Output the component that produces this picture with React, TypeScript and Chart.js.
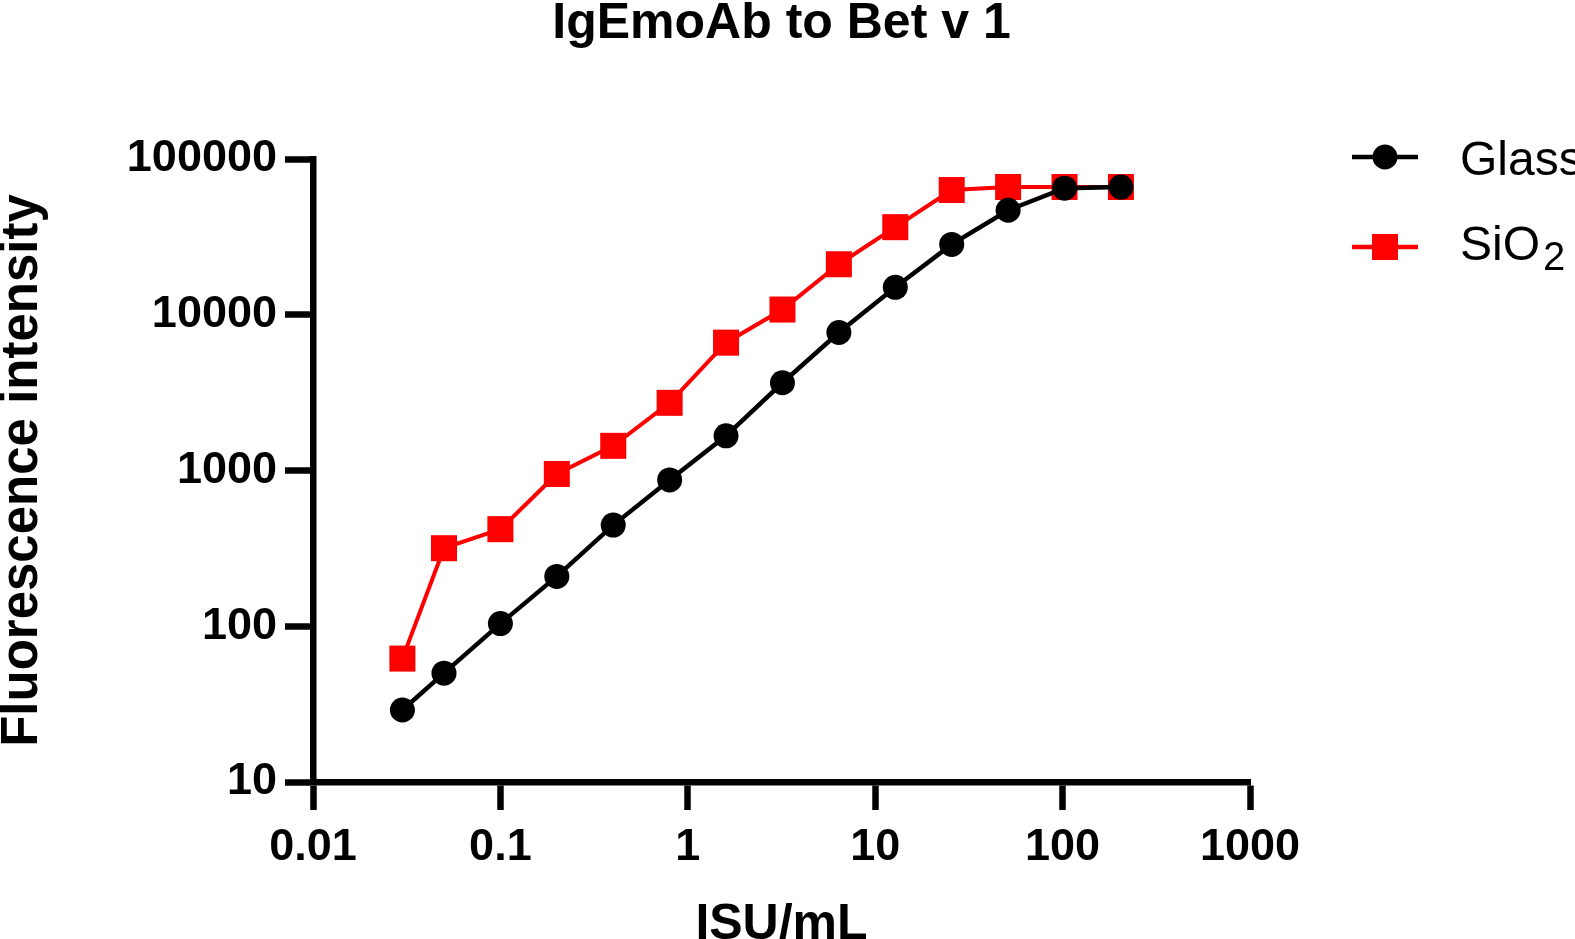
import { useEffect, useRef } from 'react'
import { Chart, registerables } from 'chart.js'

Chart.register(...registerables)

// ISU/mL dilution series
const concentrations = [0.03, 0.05, 0.1, 0.2, 0.4, 0.8, 1.6, 3.2, 6.4, 12.8, 25.6, 51.2, 102.4, 204.8]
const glassValues = [29, 50, 104, 209, 446, 870, 1670, 3660, 7690, 15000, 28300, 46900, 65000, 66000]
const sio2Values = [62, 317, 420, 950, 1440, 2720, 6620, 10800, 21100, 36500, 63200, 66100, 66100, 66100]
const xTicks = [0.01, 0.1, 1, 10, 100, 1000]
const yTicks = [10, 100, 1000, 10000, 100000]

const FONT = '"Liberation Sans", Arial, sans-serif'

const toPoints = (ys: number[]) => concentrations.map((x, i) => ({ x, y: ys[i] }))

// legend drawn by hand: line + marker, and a subscript in SiO2
const sideLegend = {
  id: 'sideLegend',
  afterDraw(chart: any) {
    const { ctx, chartArea } = chart
    const x0 = chartArea.right + 102
    const textX = x0 + 108
    const rows = [
      { y: chartArea.top - 2, color: '#000000', shape: 'circle', label: 'Glass', sub: '', base: 18 },
      { y: chartArea.top + 88, color: '#ff0000', shape: 'rect', label: 'SiO', sub: '2', base: 13 },
    ]
    ctx.save()
    rows.forEach((r) => {
      ctx.strokeStyle = r.color
      ctx.fillStyle = r.color
      ctx.lineWidth = 4.5
      ctx.beginPath()
      ctx.moveTo(x0, r.y)
      ctx.lineTo(x0 + 66, r.y)
      ctx.stroke()
      if (r.shape === 'circle') {
        ctx.beginPath()
        ctx.arc(x0 + 33, r.y, 12.5, 0, Math.PI * 2)
        ctx.fill()
      } else {
        ctx.fillRect(x0 + 20, r.y - 13, 26, 26)
      }
      ctx.fillStyle = '#000000'
      ctx.textBaseline = 'alphabetic'
      ctx.textAlign = 'left'
      ctx.font = `48px ${FONT}`
      ctx.fillText(r.label, textX, r.y + r.base)
      if (r.sub) {
        const w = ctx.measureText(r.label).width
        ctx.font = `40px ${FONT}`
        ctx.fillText(r.sub, textX + w + 3, r.y + r.base + 10)
      }
    })
    ctx.restore()
  },
}

const App = () => {
  const canvasRef = useRef<HTMLCanvasElement>(null)

  useEffect(() => {
    document.body.style.margin = '0'

    const tickGrid = {
      display: true,
      drawOnChartArea: false,
      drawTicks: true,
      tickLength: 28,
      tickWidth: 6.5,
      tickColor: '#000000',
    }
    const border = { display: true, width: 6.5, color: '#000000' }

    const chart = new Chart(canvasRef.current!, {
      type: 'scatter',
      data: {
        datasets: [
          {
            label: 'Glass',
            data: toPoints(glassValues),
            showLine: true,
            borderColor: '#000000',
            backgroundColor: '#000000',
            borderWidth: 4.5,
            pointStyle: 'circle',
            pointRadius: 12.5,
            pointBorderWidth: 0,
          },
          {
            label: 'SiO2',
            data: toPoints(sio2Values),
            showLine: true,
            borderColor: '#ff0000',
            backgroundColor: '#ff0000',
            borderWidth: 4,
            pointStyle: 'rect',
            pointRadius: 18.4,
            pointBorderWidth: 0,
          },
        ],
      },
      options: {
        animation: false,
        responsive: true,
        maintainAspectRatio: false,
        layout: { padding: { left: 0, right: 325, top: 0, bottom: 0 } },
        plugins: {
          legend: { display: false },
          tooltip: { enabled: false },
          title: {
            display: true,
            text: 'IgEmoAb to Bet v 1',
            fullSize: false,
            color: '#000000',
            font: { family: FONT, size: 50, weight: 'bold', lineHeight: 1 },
            padding: { top: -1, bottom: 110 },
          },
        },
        scales: {
          x: {
            type: 'logarithmic',
            min: 0.01,
            max: 1000,
            afterFit: (scale: any) => {
              scale.height = 157
            },
            afterBuildTicks: (scale: any) => {
              scale.ticks = xTicks.map((value) => ({ value }))
            },
            grid: tickGrid,
            border,
            ticks: {
              color: '#000000',
              padding: 11,
              autoSkip: false,
              maxRotation: 0,
              font: { family: FONT, size: 45, weight: 'bold' },
              callback: (v: any) => String(v),
            },
            title: {
              display: true,
              text: 'ISU/mL',
              color: '#000000',
              font: { family: FONT, size: 50, weight: 'bold', lineHeight: 1 },
              padding: { top: 0, bottom: -11 },
            },
          },
          y: {
            type: 'logarithmic',
            min: 10,
            max: 100000,
            afterFit: (scale: any) => {
              scale.width = 313
            },
            afterBuildTicks: (scale: any) => {
              scale.ticks = yTicks.map((value) => ({ value }))
            },
            grid: tickGrid,
            border,
            ticks: {
              color: '#000000',
              padding: 8,
              autoSkip: false,
              font: { family: FONT, size: 45, weight: 'bold' },
              callback: (v: any) => String(v),
            },
            title: {
              display: true,
              text: 'Fluorescence intensity',
              color: '#000000',
              font: { family: FONT, size: 51, weight: 'bold', lineHeight: 1 },
              padding: { top: -3, bottom: 0 },
            },
          },
        },
      },
      plugins: [sideLegend],
    })

    return () => chart.destroy()
  }, [])

  return (
    <div style={{ width: 1575, height: 939, position: 'relative', background: '#ffffff' }}>
      <canvas ref={canvasRef}></canvas>
    </div>
  )
}

export default App
